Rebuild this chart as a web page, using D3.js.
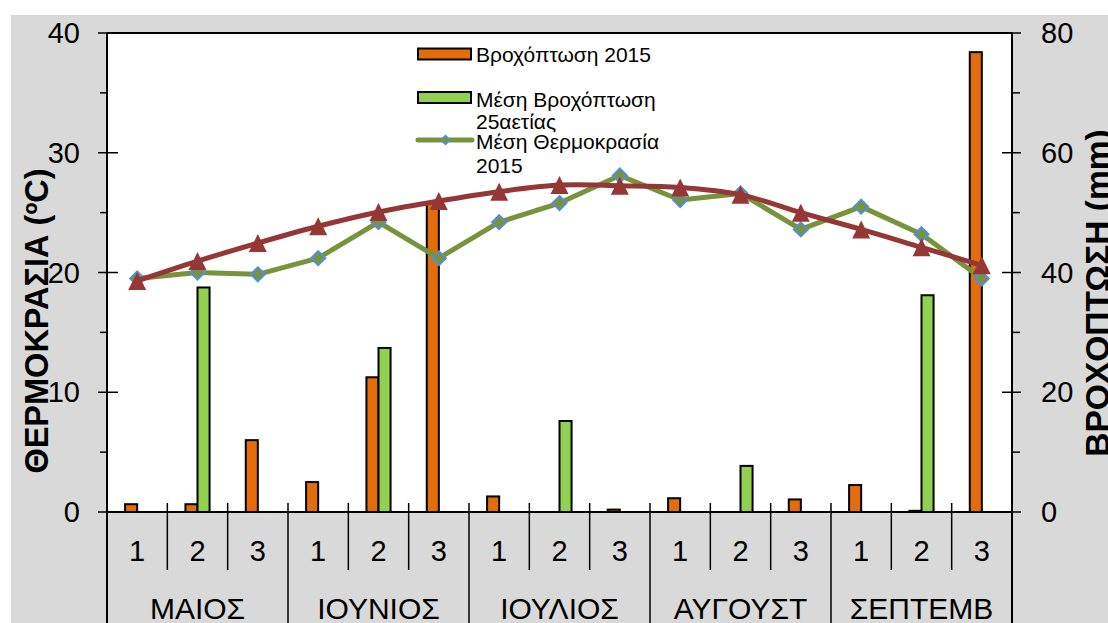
<!DOCTYPE html>
<html><head><meta charset="utf-8">
<script src="https://cdn.jsdelivr.net/npm/d3@7"></script>
<style>
body{margin:0;background:#fff;overflow:hidden}
text{font-family:"Liberation Sans",Arial,sans-serif;fill:#000}
</style>
</head><body>
<svg id="chart" width="1108" height="623"></svg>
<script>
// ---------- DATA ----------
const months = ["ΜΑΙΟΣ","ΙΟΥΝΙΟΣ","ΙΟΥΛΙΟΣ","ΑΥΓΟΥΣΤ","ΣΕΠΤΕΜΒ"];
const dekads = ["1","2","3"];
const rain2015   = [1.3,1.3,12.0, 5.0,22.5,51.6, 2.6,0,0.4, 2.3,0,2.1, 4.5,0.2,76.8];
const rainAvg25  = [0,37.5,0, 0,27.4,0, 0,15.2,0, 0,7.7,0, 0,36.2,0];
const temp2015   = [19.5,20.0,19.85, 21.2,24.2,21.2, 24.2,25.8,28.1, 26.05,26.6,23.6, 25.5,23.2,19.5];
const tempAvg25  = [19.3,20.95,22.46, 23.86,25.05,25.97, 26.75,27.3,27.25, 27.1,26.5,25.0, 23.6,22.1,20.6];
const leftTicks  = [0,10,20,30,40];
const leftMinor  = [5,15,25,35];
const rightTicks = [0,20,40,60,80];
const rightMinor = [10,30,50,70];
const leftTitle  = "ΘΕΡΜΟΚΡΑΣΙΑ (ºC)";
const rightTitle = "ΒΡΟΧΟΠΤΩΣΗ (mm)";
const legendBars = ["Βροχόπτωση 2015", ["Μέση Βροχόπτωση","25αετίας"]];
const legendLine = ["Μέση Θερμοκρασία","2015"];

// ---------- LAYOUT ----------
const W = 1108, H = 623;
const plot = {l:107, t:33, r:1012, b:512};
const svg = d3.select("#chart");
const cats = d3.range(months.length * dekads.length);

const x = d3.scaleBand().domain(cats).range([plot.l, plot.r]).paddingInner(0).paddingOuter(0);
const yL = d3.scaleLinear().domain([0,40]).range([plot.b, plot.t]);
const yR = d3.scaleLinear().domain([0,80]).range([plot.b, plot.t]);
const bw = x.bandwidth()/5;

// backgrounds
svg.append("rect").attr("x",11).attr("y",15).attr("width",W-11).attr("height",H-15).attr("fill","#d9d9d9");
svg.append("rect").attr("x",plot.l).attr("y",plot.t).attr("width",plot.r-plot.l).attr("height",plot.b-plot.t).attr("fill","#fff");

// bars
const gb = svg.append("g");
gb.selectAll(".b1").data(rain2015).join("rect")
  .attr("x",(d,i)=>x(i)+x.bandwidth()/2-bw).attr("width",bw)
  .attr("y",d=>yR(d)).attr("height",d=>yR(0)-yR(d))
  .attr("fill","#e46c0a").attr("stroke","#000").attr("stroke-width",2);
gb.selectAll(".b2").data(rainAvg25).join("rect")
  .attr("x",(d,i)=>x(i)+x.bandwidth()/2).attr("width",bw)
  .attr("y",d=>yR(d)).attr("height",d=>yR(0)-yR(d))
  .attr("fill","#92d050").attr("stroke","#000").attr("stroke-width",2);

// frame
const ga = svg.append("g").attr("stroke","#000").attr("stroke-width",2);
ga.append("line").attr("x1",plot.l).attr("x2",plot.r).attr("y1",plot.t).attr("y2",plot.t);
ga.append("line").attr("x1",plot.l).attr("x2",plot.l).attr("y1",plot.t).attr("y2",H);
ga.append("line").attr("x1",plot.r).attr("x2",plot.r).attr("y1",plot.t).attr("y2",H);
ga.append("line").attr("x1",plot.l).attr("x2",plot.r).attr("y1",plot.b).attr("y2",plot.b);

// left ticks
leftTicks.forEach(v=>{
  const inner = (v===0||v===40)?0:11;
  ga.append("line").attr("x1",plot.l-9).attr("x2",plot.l+inner).attr("y1",yL(v)).attr("y2",yL(v)).attr("stroke-width",1.5);
});
leftMinor.forEach(v=>ga.append("line").attr("x1",plot.l-7).attr("x2",plot.l).attr("y1",yL(v)).attr("y2",yL(v)).attr("stroke-width",1.5));
rightTicks.forEach(v=>{
  const inner = (v===0||v===80)?0:10;
  ga.append("line").attr("x1",plot.r-inner).attr("x2",plot.r+9).attr("y1",yR(v)).attr("y2",yR(v)).attr("stroke-width",1.5);
});
rightMinor.forEach(v=>ga.append("line").attr("x1",plot.r).attr("x2",plot.r+8).attr("y1",yR(v)).attr("y2",yR(v)).attr("stroke-width",1.5));

// category dividers
cats.slice(1).forEach(i=>{
  const isMonth = i % dekads.length === 0;
  ga.append("line").attr("x1",x(i)).attr("x2",x(i))
    .attr("y1",plot.b-9).attr("y2",isMonth?H:570).attr("stroke-width",1.5);
});

// tick labels
const gt = svg.append("g").style("font-size","29px");
gt.selectAll(".tl").data(leftTicks).join("text").attr("x",80).attr("y",d=>yL(d))
  .attr("text-anchor","end").attr("dominant-baseline","central").text(d=>d);
gt.selectAll(".tr").data(rightTicks).join("text").attr("x",1041).attr("y",d=>yR(d))
  .attr("text-anchor","start").attr("dominant-baseline","central").text(d=>d);
gt.selectAll(".tc").data(cats).join("text").attr("x",d=>x(d)+x.bandwidth()/2).attr("y",551)
  .attr("text-anchor","middle").attr("dominant-baseline","central").text(d=>dekads[d%dekads.length]);
gt.selectAll(".tm").data(months).join("text").style("font-size","30px")
  .attr("x",(d,i)=>(x(i*3)+x(i*3+2)+x.bandwidth())/2).attr("y",608)
  .attr("text-anchor","middle").attr("dominant-baseline","central").text(d=>d);

// axis titles
svg.append("text").attr("transform","translate(48,321) rotate(-90)").attr("text-anchor","middle")
  .style("font-size","32.5px").style("font-weight","bold").text(leftTitle);
svg.append("text").attr("transform","translate(1109,293) rotate(-90)").attr("text-anchor","middle")
  .style("font-size","33.5px").style("font-weight","bold").text(rightTitle);

// lines
const cx = i => x(i)+x.bandwidth()/2;
const lineG = d3.line().x((d,i)=>cx(i)).y(d=>yL(d));
const lineR = d3.line().x((d,i)=>cx(i)).y(d=>yL(d)).curve(d3.curveCardinal.tension(0));
svg.append("path").datum(temp2015).attr("d",lineG).attr("fill","none").attr("stroke","#77933c").attr("stroke-width",5).attr("stroke-linejoin","round");
svg.selectAll(".dm").data(temp2015).join("path")
  .attr("transform",(d,i)=>`translate(${cx(i)},${yL(d)})`)
  .attr("d","M0,-7L7,0L0,7L-7,0Z")
  .attr("fill","#77933c").attr("stroke","#558ed5").attr("stroke-width",2);
svg.append("path").datum(tempAvg25).attr("d",lineR).attr("fill","none").attr("stroke","#953735").attr("stroke-width",5);
svg.selectAll(".tri").data(tempAvg25).join("path")
  .attr("transform",(d,i)=>`translate(${cx(i)},${yL(d)})`)
  .attr("d","M0,-9L9,9L-9,9Z")
  .attr("fill","#953735");

// legend
const lg = svg.append("g").style("font-size","21px");
lg.append("rect").attr("x",418).attr("y",48.5).attr("width",53).attr("height",11).attr("fill","#e46c0a").attr("stroke","#000").attr("stroke-width",2);
lg.append("text").attr("x",476).attr("y",54).attr("dominant-baseline","central").text(legendBars[0]);
lg.append("rect").attr("x",418).attr("y",92).attr("width",53).attr("height",11).attr("fill","#92d050").attr("stroke","#000").attr("stroke-width",2);
lg.append("text").attr("x",476).attr("y",99).attr("dominant-baseline","central").text(legendBars[1][0]);
lg.append("text").attr("x",476).attr("y",121).attr("dominant-baseline","central").text(legendBars[1][1]);
lg.append("line").attr("x1",418).attr("x2",472).attr("y1",140).attr("y2",140).attr("stroke","#77933c").attr("stroke-width",5).attr("stroke-linecap","round");
lg.append("path").attr("transform","translate(445.5,140)").attr("d","M0,-4.5L4.5,0L0,4.5L-4.5,0Z").attr("fill","#77933c").attr("stroke","#558ed5").attr("stroke-width",1.5);
lg.append("text").attr("x",476).attr("y",141).attr("dominant-baseline","central").text(legendLine[0]);
lg.append("text").attr("x",476).attr("y",165).attr("dominant-baseline","central").text(legendLine[1]);
</script>
</body></html>
